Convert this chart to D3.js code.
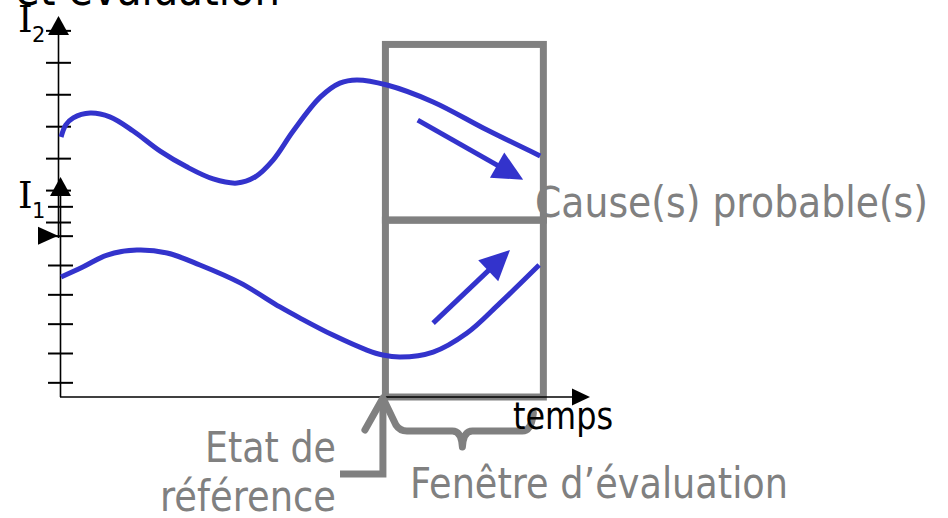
<!DOCTYPE html>
<html>
<head>
<meta charset="utf-8">
<script src="https://cdn.jsdelivr.net/npm/d3@7"></script>
<style>
  body { margin: 0; background: #fff; }
  svg { display: block; }
</style>
</head>
<body>
<div class="visHolder"></div>
<script>
// Texts
var titleText = 'et évaluation';
var timeLabel = 'temps';
var windowLabel = 'Fenêtre d’évaluation';
var refLabel = ['Etat de', 'référence'];
var causeLabel = 'Cause(s) probable(s)';

// Indicator I2 (upper curve), time runs 0..100
var i2Time = [0.2, 1.1, 2.5, 5.7, 9.4, 13.8, 18.9, 24.0, 28.9, 33.4, 36.8, 40.2, 44.0, 49.1, 52.8, 56.0, 61.7, 70.4, 80.6, 90.6];
var i2Values = [3.66, 4.04, 4.26, 4.41, 4.29, 3.85, 3.22, 2.72, 2.35, 2.22, 2.41, 2.94, 3.85, 4.91, 5.35, 5.45, 5.29, 4.76, 3.88, 3.07];

// Indicator I1 (lower curve)
var i1Time = [0.2, 4.3, 8.9, 14.5, 20.2, 26.4, 34.0, 41.5, 45.3, 51.5, 57.9, 60.9, 64.2, 70.4, 76.8, 83.0, 90.4];
var i1Values = [4.59, 4.93, 5.34, 5.51, 5.41, 5.00, 4.39, 3.57, 3.19, 2.61, 2.10, 1.93, 1.86, 2.03, 2.68, 3.70, 5.00];

var i2Ticks = [1, 2, 3, 4, 5, 6, 7];
var i1Ticks = [1, 2, 3, 4, 5, 6, 7];
var i1Threshold = 6;

// evaluation window (time) and its extent on each indicator
var evalWindow = [61.4, 91.2];
var i2WindowSpan = [1.06, 6.56];
var i1WindowSpan = [0.5, 6.53];

// trend arrows [time, value] start -> end
var i2Trend = [[67.5, 4.19], [87.4, 2.32]];
var i1Trend = [[70.4, 3.02], [84.9, 5.51]];

// Setting sizes / colours
var width = 948,
    height = 518,
    blue = '#3333cc',
    grey = '#808080',
    sans = 'DejaVu Sans, Verdana, sans-serif';

var svg = d3.select('.visHolder')
  .append('svg')
  .attr('width', width)
  .attr('height', height);

var x = d3.scaleLinear().domain([0, 100]).range([60, 590]);
var yI2 = d3.scaleLinear().domain([0.5, 7.45]).range([238, 16]);
var yI1 = d3.scaleLinear().domain([0.5, 8]).range([397, 177]);

var axI2X = x(0) - 1.5,
    axI1X = x(0) + 0.5,
    baseY = yI1(0.5);

// evaluation window boxes (behind the curves)
svg.append('rect')
  .attr('x', x(evalWindow[0]))
  .attr('y', yI2(i2WindowSpan[1]))
  .attr('width', x(evalWindow[1]) - x(evalWindow[0]))
  .attr('height', yI2(i2WindowSpan[0]) - yI2(i2WindowSpan[1]))
  .attr('fill', 'none')
  .attr('stroke', grey)
  .attr('stroke-width', 7);

svg.append('rect')
  .attr('x', x(evalWindow[0]))
  .attr('y', yI1(i1WindowSpan[1]))
  .attr('width', x(evalWindow[1]) - x(evalWindow[0]))
  .attr('height', yI1(i1WindowSpan[0]) - yI1(i1WindowSpan[1]))
  .attr('fill', 'none')
  .attr('stroke', grey)
  .attr('stroke-width', 7);

// vertical axes with crossing ticks
function drawAxis(scale, ticks, ax, top) {
  var g = svg.append('g')
    .attr('transform', 'translate(' + ax + ',0)')
    .call(d3.axisLeft(scale).tickValues(ticks).tickFormat('').tickSizeOuter(0));
  g.select('.domain').remove();
  g.selectAll('.tick line')
    .attr('x1', -12.5)
    .attr('x2', 12.5)
    .attr('stroke', '#000')
    .attr('stroke-width', 2);

  svg.append('line')
    .attr('x1', ax).attr('x2', ax)
    .attr('y1', scale.range()[0])
    .attr('y2', top + 18)
    .attr('stroke', '#000')
    .attr('stroke-width', 1.6);

  svg.append('path')
    .attr('d', 'M' + ax + ',' + top + 'L' + (ax + 10.5) + ',' + (top + 19) + 'L' + (ax - 10.5) + ',' + (top + 19) + 'Z')
    .attr('fill', '#000');
}

drawAxis(yI2, i2Ticks, axI2X, yI2(7.45));
drawAxis(yI1, i1Ticks, axI1X, yI1(8));

// time axis
svg.append('line')
  .attr('x1', x(0)).attr('x2', x(100) - 18)
  .attr('y1', baseY).attr('y2', baseY)
  .attr('stroke', '#000')
  .attr('stroke-width', 1.6);

svg.append('path')
  .attr('d', 'M' + x(100) + ',' + baseY + 'L' + (x(100) - 18) + ',' + (baseY - 8.5) + 'L' + (x(100) - 18) + ',' + (baseY + 8.5) + 'Z')
  .attr('fill', '#000');

// threshold marker on I1
var thY = yI1(i1Threshold);
svg.append('path')
  .attr('d', 'M' + (axI1X - 2.5) + ',' + thY + 'L' + (axI1X - 22.5) + ',' + (thY - 9) + 'L' + (axI1X - 22.5) + ',' + (thY + 9) + 'Z')
  .attr('fill', '#000');

// curves
var lineI2 = d3.line()
  .x(function(d, i) { return x(i2Time[i]); })
  .y(function(d) { return yI2(d); })
  .curve(d3.curveCatmullRom);

var lineI1 = d3.line()
  .x(function(d, i) { return x(i1Time[i]); })
  .y(function(d) { return yI1(d); })
  .curve(d3.curveCatmullRom);

svg.append('path')
  .attr('d', lineI2(i2Values))
  .attr('fill', 'none')
  .attr('stroke', blue)
  .attr('stroke-width', 5);

svg.append('path')
  .attr('d', lineI1(i1Values))
  .attr('fill', 'none')
  .attr('stroke', blue)
  .attr('stroke-width', 5);

// trend arrows
function trendArrow(pts, scale) {
  var x0 = x(pts[0][0]), y0 = scale(pts[0][1]),
      x1 = x(pts[1][0]), y1 = scale(pts[1][1]);
  var len = Math.sqrt((x1 - x0) * (x1 - x0) + (y1 - y0) * (y1 - y0)),
      ux = (x1 - x0) / len, uy = (y1 - y0) / len,
      bx = x1 - ux * 30, by = y1 - uy * 30;

  svg.append('line')
    .attr('x1', x0).attr('y1', y0)
    .attr('x2', bx + ux * 2).attr('y2', by + uy * 2)
    .attr('stroke', blue)
    .attr('stroke-width', 5);

  svg.append('path')
    .attr('d', 'M' + x1 + ',' + y1 +
      'L' + (bx - uy * 14.5) + ',' + (by + ux * 14.5) +
      'L' + (bx + uy * 14.5) + ',' + (by - ux * 14.5) + 'Z')
    .attr('fill', blue);
}

trendArrow(i2Trend, yI2);
trendArrow(i1Trend, yI1);

// reference state arrow + brace under the window
var refX = x(evalWindow[0]) - 2.5,
    bx1 = x(evalWindow[1]) - 10,
    bm = (x(evalWindow[0]) + x(evalWindow[1])) / 2 - 2,
    braceY = 431;

svg.append('path')
  .attr('d', 'M340,474H' + refX + 'V' + (baseY + 3))
  .attr('fill', 'none')
  .attr('stroke', grey)
  .attr('stroke-width', 7);

svg.append('path')
  .attr('d', 'M' + (refX - 18) + ',430L' + refX + ',' + (baseY + 1) +
    'L' + (refX + 13) + ',425' +
    'Q' + (refX + 17) + ',' + braceY + ' ' + (refX + 24) + ',' + braceY +
    'H' + (bm - 10) +
    'Q' + (bm - 1) + ',' + braceY + ' ' + bm + ',' + (braceY + 16) +
    'Q' + (bm + 1) + ',' + braceY + ' ' + (bm + 10) + ',' + braceY +
    'H' + (bx1 - 11) +
    'Q' + (bx1 - 2) + ',' + braceY + ' ' + bx1 + ',' + (braceY - 18))
  .attr('fill', 'none')
  .attr('stroke', grey)
  .attr('stroke-width', 7)
  .attr('stroke-linecap', 'round')
  .attr('stroke-linejoin', 'round');

// texts
function label(txt, px, py, size, len, colour, family) {
  return svg.append('text')
    .attr('x', px)
    .attr('y', py)
    .attr('textLength', len)
    .attr('lengthAdjust', 'spacingAndGlyphs')
    .style('font-family', family || sans)
    .style('font-size', size + 'px')
    .attr('fill', colour)
    .text(txt);
}

label(titleText, 15, 5, 46, 265, '#000');
label(timeLabel, 513, 429, 37, 100, '#000');
label(causeLabel, 535, 217, 42, 393, grey);
label(windowLabel, 410, 498, 42, 378, grey);
label(refLabel[0], 205, 462, 42, 131, grey);
label(refLabel[1], 160, 511, 42, 176, grey);

// indicator names
svg.append('text').attr('x', 18).attr('y', 32)
  .style('font-family', 'DejaVu Serif, serif').style('font-size', '37px').text('I');
svg.append('text').attr('x', 32).attr('y', 42)
  .style('font-family', sans).style('font-size', '21px').text('2');
svg.append('text').attr('x', 18).attr('y', 208)
  .style('font-family', 'DejaVu Serif, serif').style('font-size', '37px').text('I');
svg.append('text').attr('x', 32).attr('y', 218)
  .style('font-family', sans).style('font-size', '21px').text('1');
</script>
</body>
</html>
